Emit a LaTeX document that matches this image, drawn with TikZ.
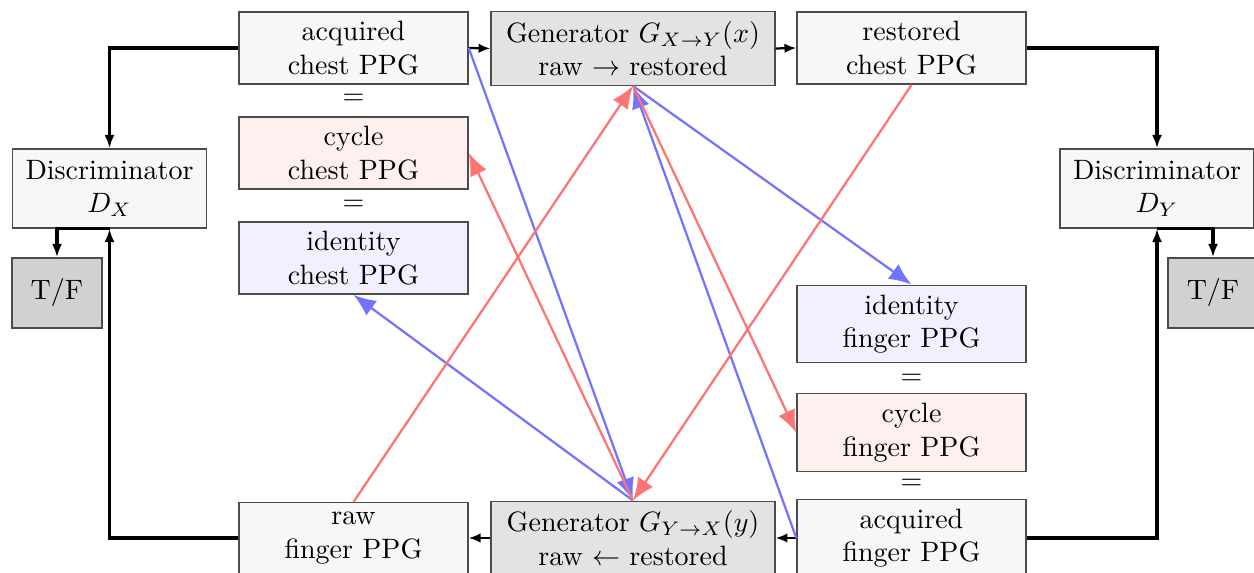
\documentclass[tikz,border=0pt]{standalone}
\usetikzlibrary{arrows.meta}
\begin{document}
\begin{tikzpicture}[x=0.3571pt,y=-0.3571pt,
  box/.style={draw=black!70,line width=0.5pt,align=center,fill=black!3,minimum width=81.8pt},
  genbox/.style={box,fill=black!11,minimum width=101.4pt},
  discbox/.style={box,minimum width=69.3pt,minimum height=28.2pt},
  tfbox/.style={draw=black!70,line width=0.5pt,fill=black!18,minimum width=32.1pt,minimum height=25pt},
  cycbox/.style={box,fill=red!6},
  idbox/.style={box,fill=blue!6},
  flow/.style={line width=1.2pt,-{Latex[length=4.8pt,width=3.6pt]}},
  pass/.style={line width=0.8pt,-{Latex[length=4.2pt,width=3.4pt]}},
  bluearr/.style={draw=blue!55,line width=0.8pt,-{Latex[length=8pt,width=6.5pt]}},
  redarr/.style={draw=red!55,line width=0.8pt,-{Latex[length=8pt,width=6.5pt]}}]
\useasboundingbox (0,0) rectangle (1254,573);

% chest-side column
\node[box]    (acqC) at (353.5,48)  {acquired\\chest PPG};
\node         (eq1)  at (353.5,99)  {$=$};
\node[cycbox] (cycC) at (353.5,153) {cycle\\chest PPG};
\node         (eq2)  at (353.5,205) {$=$};
\node[idbox]  (idC)  at (353.5,258) {identity\\chest PPG};

% generators and restored output
\node[genbox] (GXY)  at (633,48.5) {Generator $G_{X\rightarrow Y}(x)$\\raw $\rightarrow$ restored};
\node[box]    (resC) at (911.5,48) {restored\\chest PPG};
\node[genbox] (GYX)  at (633,538)  {Generator $G_{Y\rightarrow X}(y)$\\raw $\leftarrow$ restored};
\node[box]    (rawF) at (353.5,538) {raw\\finger PPG};

% finger-side column
\node[idbox]  (idF)  at (911.5,324)   {identity\\finger PPG};
\node         (eq3)  at (911.5,379)   {$=$};
\node[cycbox] (cycF) at (911.5,432.5) {cycle\\finger PPG};
\node         (eq4)  at (911.5,484)   {$=$};
\node[box]    (acqF) at (911.5,538)   {acquired\\finger PPG};

% discriminators
\node[discbox] (DX)  at (109.5,188.5) {Discriminator\\$D_X$};
\node[tfbox]   (TFX) at (57,293)      {T/F};
\node[discbox] (DY)  at (1157,188.5)  {Discriminator\\$D_Y$};
\node[tfbox]   (TFY) at (1213,293)    {T/F};

% discriminator inputs and outputs
\draw[flow] (acqC.west) -| (DX.north);
\draw[flow] (rawF.west) -| (DX.south);
\draw[flow] (DX.south) -| (TFX.north);
\draw[flow] (resC.east) -| (DY.north);
\draw[flow] (acqF.east) -| (DY.south);
\draw[flow] (DY.south) -| (TFY.north);

% generator passes
\draw[pass] (acqC.east) -- (GXY.west);
\draw[pass] (GXY.east) -- (resC.west);
\draw[pass] (acqF.west) -- (GYX.east);
\draw[pass] (GYX.west) -- (rawF.east);

% identity mappings
\draw[bluearr] (acqC.east) -- (GYX.north);
\draw[bluearr] (GYX.north) -- (idC.south);
\draw[bluearr] (acqF.west) -- (GXY.south);
\draw[bluearr] (GXY.south) -- (idF.north);

% cycle mappings
\draw[redarr] (rawF.north) -- (GXY.south);
\draw[redarr] (GXY.south) -- (cycF.west);
\draw[redarr] (resC.south) -- (GYX.north);
\draw[redarr] (GYX.north) -- (cycC.east);
\end{tikzpicture}
\end{document}
